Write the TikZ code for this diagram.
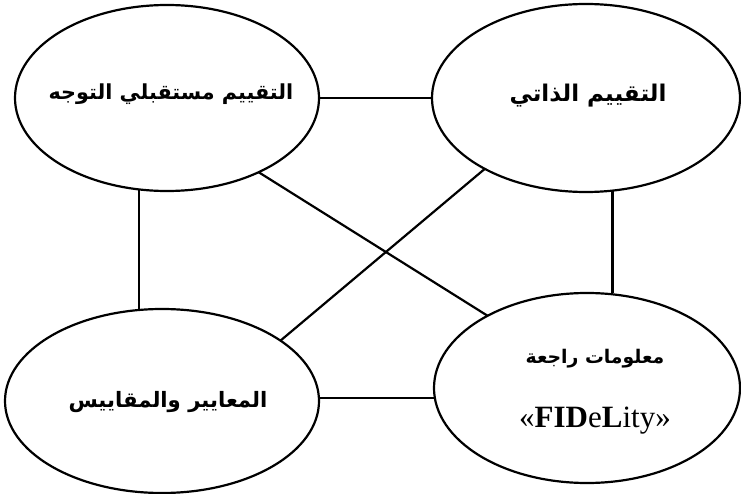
\documentclass[tikz,border=0pt]{standalone}
\usepackage{fontspec}
\usetikzlibrary{shapes.geometric}
\TeXXeTstate=1
\newfontfamily\arabicfont[Script=Arabic]{DejaVu Sans}
\newfontfamily\lserif{Liberation Serif}
% place text with zero size so the ellipse keeps its given size
\newcommand{\ovaltext}[3]{\raisebox{#1}[0pt][0pt]{\makebox[0pt]{\hspace*{#2}#3}}}
\begin{document}
\begin{tikzpicture}[x=1pt,y=-1pt,
  oval/.style={draw=black, line width=2.2pt, ellipse, inner sep=0pt, outer sep=0pt,
    font=\arabicfont\bfseries},
  link/.style={draw=black, line width=2.2pt}]
\useasboundingbox (0,0) rectangle (741,494);
\node[oval, minimum width=304, minimum height=186] (tl) at (167,98)
  {\ovaltext{-2pt}{8pt}{\fontsize{20.7}{24}\selectfont\beginR التقييم مستقبلي التوجه\endR}};
\node[oval, minimum width=308, minimum height=188] (tr) at (586,98)
  {\ovaltext{-4pt}{4pt}{\fontsize{23}{28}\selectfont\beginR التقييم الذاتي\endR}};
\node[oval, minimum width=314, minimum height=184] (bl) at (162,401)
  {\ovaltext{-6pt}{12pt}{\fontsize{21.2}{26}\selectfont\beginR المعايير والمقاييس\endR}};
\node[oval, minimum width=306, minimum height=190] (br) at (587,388)
  {\ovaltext{25pt}{16pt}{\fontsize{18.8}{22}\selectfont\beginR معلومات راجعة\endR}%
   \ovaltext{-39pt}{16pt}{\mdseries\lserif\fontsize{31}{34}\selectfont «\textbf{FID}e\textbf{L}ity»}};
\draw[link] (tl.east) -- (tr.west);
\draw[link] (bl.1) -- (bl.1 -| br.west);
\draw[link] (tl.-107.6) -- (tl.-107.6 |- bl.north);
\draw[link] (tr.-74.3) -- (tr.-74.3 |- br.north);
\draw[link] (tl.-39.6) -- (br.144.4);
\draw[link] (tr.215.5) -- (bl.27.7);
\end{tikzpicture}
\end{document}
